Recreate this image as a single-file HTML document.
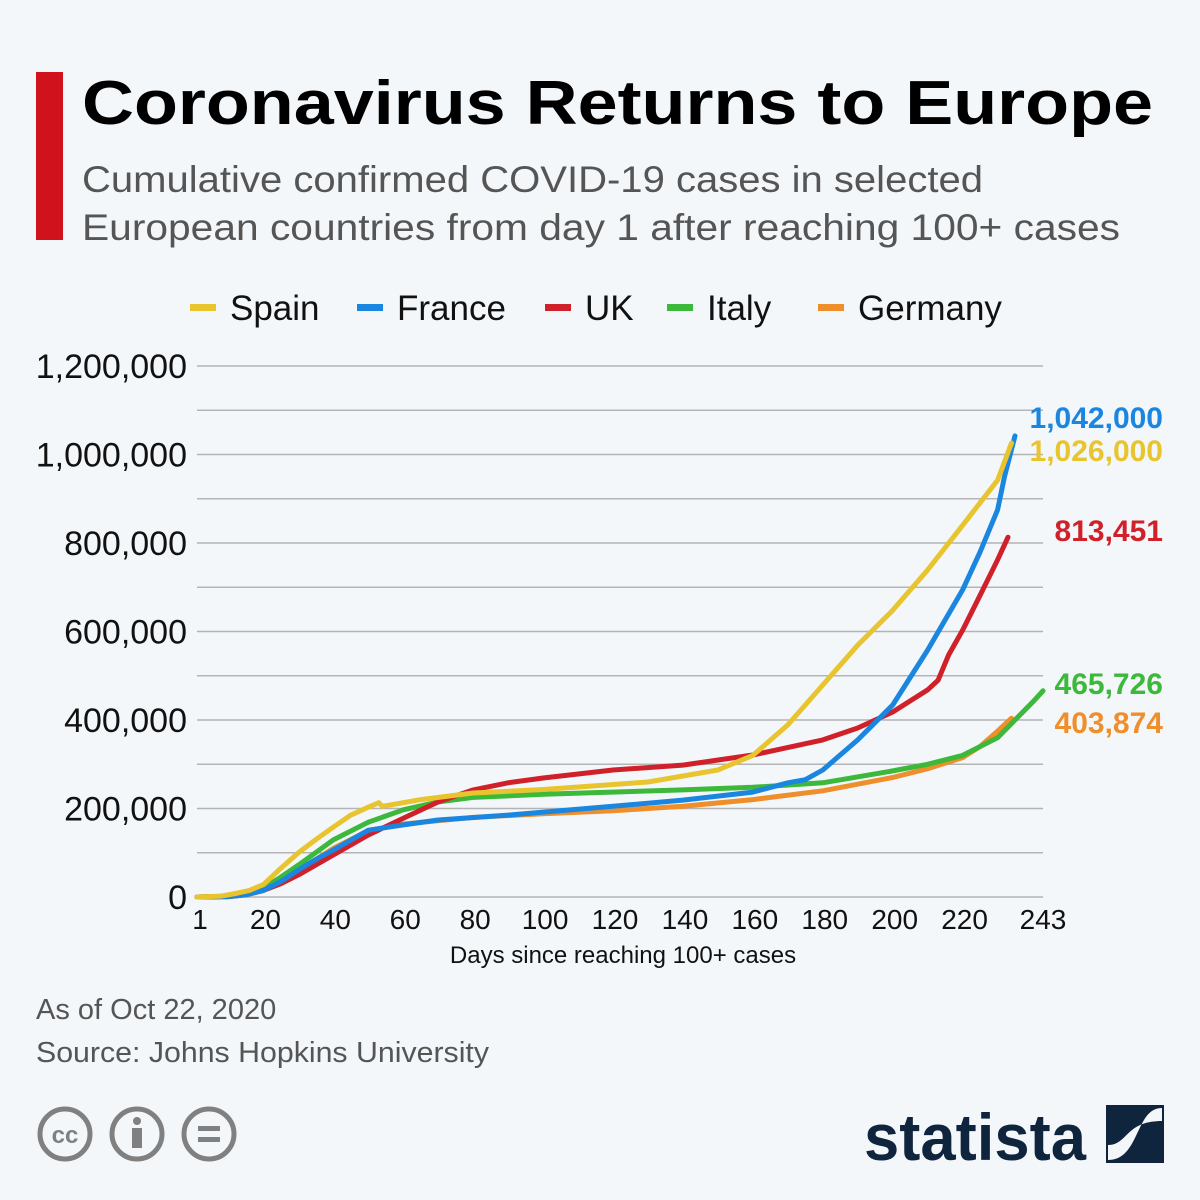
<!DOCTYPE html>
<html><head><meta charset="utf-8"><style>
body{margin:0;background:#f3f7fa;}
svg{display:block;font-family:"Liberation Sans","DejaVu Sans",sans-serif;}
</style></head><body>
<svg width="1200" height="1200" viewBox="0 0 1200 1200">
<rect width="1200" height="1200" fill="#f3f7fa"/>
<rect x="36" y="72" width="27" height="168" fill="#d0121c"/>
<text x="82" y="124" font-size="62" font-weight="bold" fill="#000" textLength="1071" lengthAdjust="spacingAndGlyphs">Coronavirus Returns to Europe</text>
<text x="82" y="192" font-size="37" fill="#555" textLength="901" lengthAdjust="spacingAndGlyphs">Cumulative confirmed COVID-19 cases in selected</text>
<text x="82" y="240" font-size="37" fill="#555" textLength="1038" lengthAdjust="spacingAndGlyphs">European countries from day 1 after reaching 100+ cases</text>
<g id="legend"></g>
<g id="grid"></g>
<g id="yaxis"></g>
<g id="xaxis"></g>
<g id="series"></g>
<g id="endlabels"></g>
<text x="623" y="963" font-size="24" text-anchor="middle" fill="#111">Days since reaching 100+ cases</text>
<text x="36" y="1019" font-size="29" fill="#555">As of Oct 22, 2020</text>
<text x="36" y="1062" font-size="29" fill="#555" textLength="453" lengthAdjust="spacingAndGlyphs">Source: Johns Hopkins University</text>
<g fill="none" stroke="#808080" stroke-width="5">
<circle cx="65" cy="1134" r="25"/><circle cx="137" cy="1134" r="25"/><circle cx="209" cy="1134" r="25"/>
<text x="65" y="1143" font-size="24" font-weight="bold" fill="#808080" stroke="none" text-anchor="middle">cc</text>
<circle cx="137" cy="1121" r="4" fill="#808080" stroke="none"/>
<rect x="132" y="1128" width="10" height="20" fill="#808080" stroke="none"/>
<rect x="198" y="1126" width="22" height="5" fill="#808080" stroke="none"/>
<rect x="198" y="1137" width="22" height="5" fill="#808080" stroke="none"/>
</g>
<text x="864" y="1160" font-size="66" font-weight="bold" fill="#0f243d" textLength="222" lengthAdjust="spacingAndGlyphs">statista</text>
<g>
<rect x="1106" y="1105" width="58" height="58" fill="#0f243d"/>
<path d="M1162 1108 C1135 1108 1140 1160 1108 1160 L1108 1145 C1128 1145 1125 1121 1162 1121 Z" fill="#f3f7fa"/>
</g>
</svg>
<script>
const yTicks=[0,200000,400000,600000,800000,1000000,1200000];
const yTickLabels=["0","200,000","400,000","600,000","800,000","1,000,000","1,200,000"];
const xTicks=[1,20,40,60,80,100,120,140,160,180,200,220,243];
const countries=["Spain","France","UK","Italy","Germany"];
const colors=["#e8c42f","#1a86e0","#d0202a","#3cb83a","#ef8f2b"];
const spainDays=[1,8,12,16,20,25,30,35,40,45,50,53,54,60,65,80,100,130,150,160,170,180,190,200,210,220,230,234];
const spainVals=[0,2,8,15,28,65,100,130,158,185,203,213,205,213,220,235,243,260,287,320,389,479,569,648,739,840,942,1026];
const franceDays=[1,10,15,20,25,30,35,40,50,60,70,90,120,140,160,170,175,180,190,200,210,220,225,230,232,235];
const franceVals=[0,1,5,15,35,61,85,106,151,163,174,185,205,219,237,258,265,287,355,434,558,694,780,875,950,1042];
const ukDays=[1,10,15,20,25,30,40,50,60,70,80,90,100,120,140,160,180,190,200,210,213,216,220,225,230,233];
const ukVals=[0,1,5,15,30,50,95,140,178,215,242,258,269,287,298,321,355,382,418,468,490,547,603,682,762,813];
const italyDays=[1,10,15,20,25,30,40,50,60,70,80,100,140,160,180,200,210,220,230,235,240,243];
const italyVals=[0,2,8,20,45,72,129,169,197,215,225,232,242,248,258,285,300,320,360,400,440,466];
const germanyDays=[1,10,15,20,25,30,40,50,60,80,100,120,140,160,180,200,210,220,225,230,234];
const germanyVals=[0,1,5,15,35,60,110,150,165,180,188,195,205,220,240,270,290,315,340,375,404];
const endLabels=["1,026,000","1,042,000","813,451","465,726","403,874"];
const NS="http://www.w3.org/2000/svg";
const X0=197,X1=1043,Y0=897,Y1=366;
function xs(d){return X0+(d-1)*(X1-X0)/242;}
function ys(v){return Y0-v*(Y0-Y1)/1200000;}
function mk(t,a,p,txt){const e=document.createElementNS(NS,t);for(const k in a)e.setAttribute(k,a[k]);if(txt!==undefined)e.textContent=txt;p.appendChild(e);return e;}
const grid=document.getElementById('grid'),ya=document.getElementById('yaxis'),xa=document.getElementById('xaxis');
for(let v=0;v<=1200000;v+=100000){const l=mk('line',{x1:197,x2:1043,y1:ys(v),y2:ys(v),stroke:'#b4b4b4','stroke-width':1.5},grid);

}
yTicks.forEach((v,i)=>{const t=mk('text',{x:187,y:ys(v)+12,'font-size':34,'text-anchor':'end',fill:'#111'},ya,yTickLabels[i]);

});
xTicks.forEach(d=>{const t=mk('text',{x:xs(d)+(d===1?3:d===243?0:2),y:929,'font-size':28,'text-anchor':'middle',fill:'#111'},xa,String(d));

});
const sg=document.getElementById('series');
const sets=[[spainDays,spainVals],[franceDays,franceVals],[ukDays,ukVals],[italyDays,italyVals],[germanyDays,germanyVals]];
const order=[4,3,2,1,0];
order.forEach(i=>{const [ds,vs]=sets[i];const pts=ds.map((d,j)=>xs(d).toFixed(1)+','+ys(vs[j]*1000).toFixed(1)).join(' ');
const pl=mk('polyline',{points:pts,fill:'none',stroke:colors[i],'stroke-width':5,'stroke-linejoin':'round','stroke-linecap':'round'},sg);

});
const el=document.getElementById('endlabels');
const labelY=[450,417,530,683,722];
endLabels.forEach((s,i)=>{const t=mk('text',{x:1163,y:labelY[i]+11,'font-size':30,'font-weight':'bold','text-anchor':'end',fill:colors[i]},el,s);

});
const lg=document.getElementById('legend');
const lx=[190,357,545,667,818];
countries.forEach((c,i)=>{const r=mk('rect',{x:lx[i],y:304,width:26,height:7,fill:colors[i]},lg);


const t=mk('text',{x:lx[i]+40,y:320,'font-size':35,fill:'#111'},lg,c);

});
</script>
</body></html>
